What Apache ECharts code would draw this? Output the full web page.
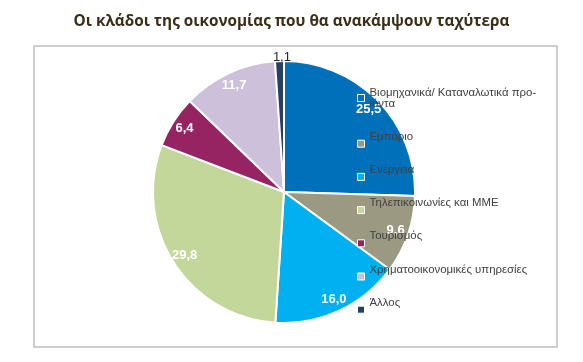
<!DOCTYPE html>
<html><head><meta charset="utf-8">
<script src="https://cdn.jsdelivr.net/npm/echarts@6/dist/echarts.min.js"></script>
<style>html,body{margin:0;padding:0;background:#fff}#c{width:583px;height:362px}</style>
</head><body><div id="c"></div>
<script>
const categories = ['Βιομηχανικά/ Καταναλωτικά προϊόντα','Εμπόριο','Ενέργεια','Τηλεπικοινωνίες και ΜΜΕ','Τουρισμός','Χρηματοοικονομικές υπηρεσίες','Άλλος'];
const values = [25.5, 9.6, 16.0, 29.8, 6.4, 11.7, 1.1];
const colors = ['#0070BA','#9C9983','#00B0F0','#C4D79B','#962463','#CCC0DA','#254061'];
const titleText = 'Οι κλάδοι της οικονομίας που θα ανακάμψουν ταχύτερα';

const chart = echarts.init(document.getElementById('c'), null, {renderer:'canvas'});
const fmt = v => v.toFixed(1).replace('.', ',');
const baseData = categories.map((n,i)=>({name:n, value:values[i], itemStyle:{color:colors[i]}}));
const labelData = categories.map((n,i)=>{
  const d = {name:n, value:values[i]};
  if (i === 6) d.label = {color:'#262626', fontWeight:'normal', offset:[2,-17]};
  return d;
});
chart.setOption({
  animation:false,
  title:{text:titleText, left:'center', top:9, textStyle:{fontFamily:'Open Sans', fontWeight:'bold', fontSize:15.3, color:'#3B2E17'}},
  graphic:[{type:'rect', shape:{x:34, y:46, width:523, height:301}, style:{fill:'none', stroke:'#BFBFBF', lineWidth:1.5}, silent:true}],
  legend:{
    orient:'vertical', left:352, top:68, itemWidth:7, itemHeight:7, itemGap:8.2, icon:'rect',
    itemStyle:{borderColor:'#fff', borderWidth:1},
    data:categories,
    formatter: n => n === categories[0] ? '{a|Βιομηχανικά/ Καταναλωτικά προ-\nϊόντα}' : '{b|' + n + '}',
    textStyle:{fontFamily:'Liberation Sans', fontSize:11.4, color:'#404040', lineHeight:12,
      rich:{a:{fontFamily:'Liberation Sans', fontSize:11.4, color:'#404040', lineHeight:11, padding:[14,0,14,0]},
            b:{fontFamily:'Liberation Sans', fontSize:11.4, color:'#404040', lineHeight:12, padding:[0,0,14,0]}}}
  },
  series:[
    {type:'pie', center:[284,192], radius:131, startAngle:90, clockwise:true,
     itemStyle:{borderColor:'#fff', borderWidth:2}, label:{show:false}, labelLine:{show:false},
     data:baseData, silent:true},
    {type:'pie', center:[284,192], radius:[99,131], startAngle:90, clockwise:true,
     itemStyle:{color:'rgba(0,0,0,0)', borderWidth:0}, labelLine:{show:false}, silent:true,
     label:{show:true, position:'inside', formatter:p=>fmt(p.value), color:'#fff', fontWeight:'bold', fontSize:13, fontFamily:'Liberation Sans'},
     data:labelData}
  ]
});
</script></body></html>
